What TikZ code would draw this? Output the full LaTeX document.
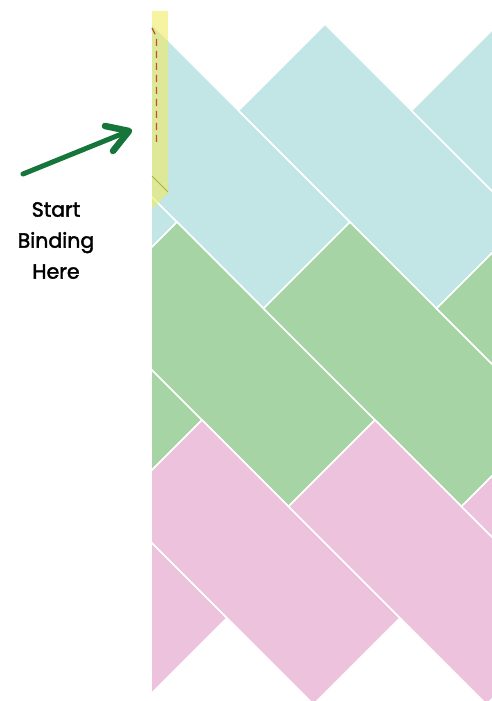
\documentclass[tikz,border=0pt]{standalone}
\usepackage{fontspec}
\setmainfont{Poppins}
\newfontfamily\lblfont{Poppins}[FakeBold=2]
\definecolor{tileblue}{RGB}{194,229,230}
\definecolor{tilegreen}{RGB}{166,212,165}
\definecolor{tilepink}{RGB}{237,194,220}
\definecolor{arrowgreen}{RGB}{22,117,58}
\definecolor{hlyellow}{RGB}{240,235,100}
\definecolor{foldolive}{RGB}{181,176,60}
\definecolor{stitchred}{RGB}{195,75,60}
\tikzset{
  tile/.style={draw=white, line width=1.6pt, line join=miter},
  arrowline/.style={draw=arrowgreen, line width=5pt, line cap=round, line join=round},
  label/.style={font=\lblfont\fontsize{20.5}{31}\selectfont, align=center, inner sep=0pt, text=black}
}
\begin{document}
\begin{tikzpicture}[x=1pt, y=-1pt]
\useasboundingbox (0,0) rectangle (492,701);
\begin{scope}
  \clip (152,0) rectangle (492,701);
  % blue row
  \foreach \tx in {-21,152,325,498}
    \filldraw[tile, fill=tileblue] (\tx,24) -- ++(198,198) -- ++(-86.5,86.5) -- ++(-198,-198) -- cycle;
  % green row
  \foreach \tx in {4,177,350,523}
    \filldraw[tile, fill=tilegreen] (\tx,222) -- ++(198,198) -- ++(-86.5,86.5) -- ++(-198,-198) -- cycle;
  % pink row
  \foreach \tx in {29,202,375,548}
    \filldraw[tile, fill=tilepink] (\tx,420) -- ++(198,198) -- ++(-86.5,86.5) -- ++(-198,-198) -- cycle;
\end{scope}
% binding highlight
\fill[hlyellow, opacity=0.6] (152,11) -- (168,11) -- (168,193) -- (152,209) -- cycle;
\draw[foldolive, line width=0.9pt] (152,176) -- (168,192);
\draw[stitchred, line width=1.3pt, dash pattern=on 7pt off 5pt] (152,28) -- (156.5,37) -- (156.5,142);
% arrow
\coordinate (tail) at (23,174);
\coordinate (tip) at (129,131);
\coordinate (armA) at (105,126);
\coordinate (armB) at (113,151);
\draw[arrowline] (tail) -- (tip);
\draw[arrowline, line width=6.5pt] (armA) -- (tip) -- (armB);
\node[label, anchor=north] (txt) at (56,202) {Start\\Binding\\Here};
\end{tikzpicture}
\end{document}
